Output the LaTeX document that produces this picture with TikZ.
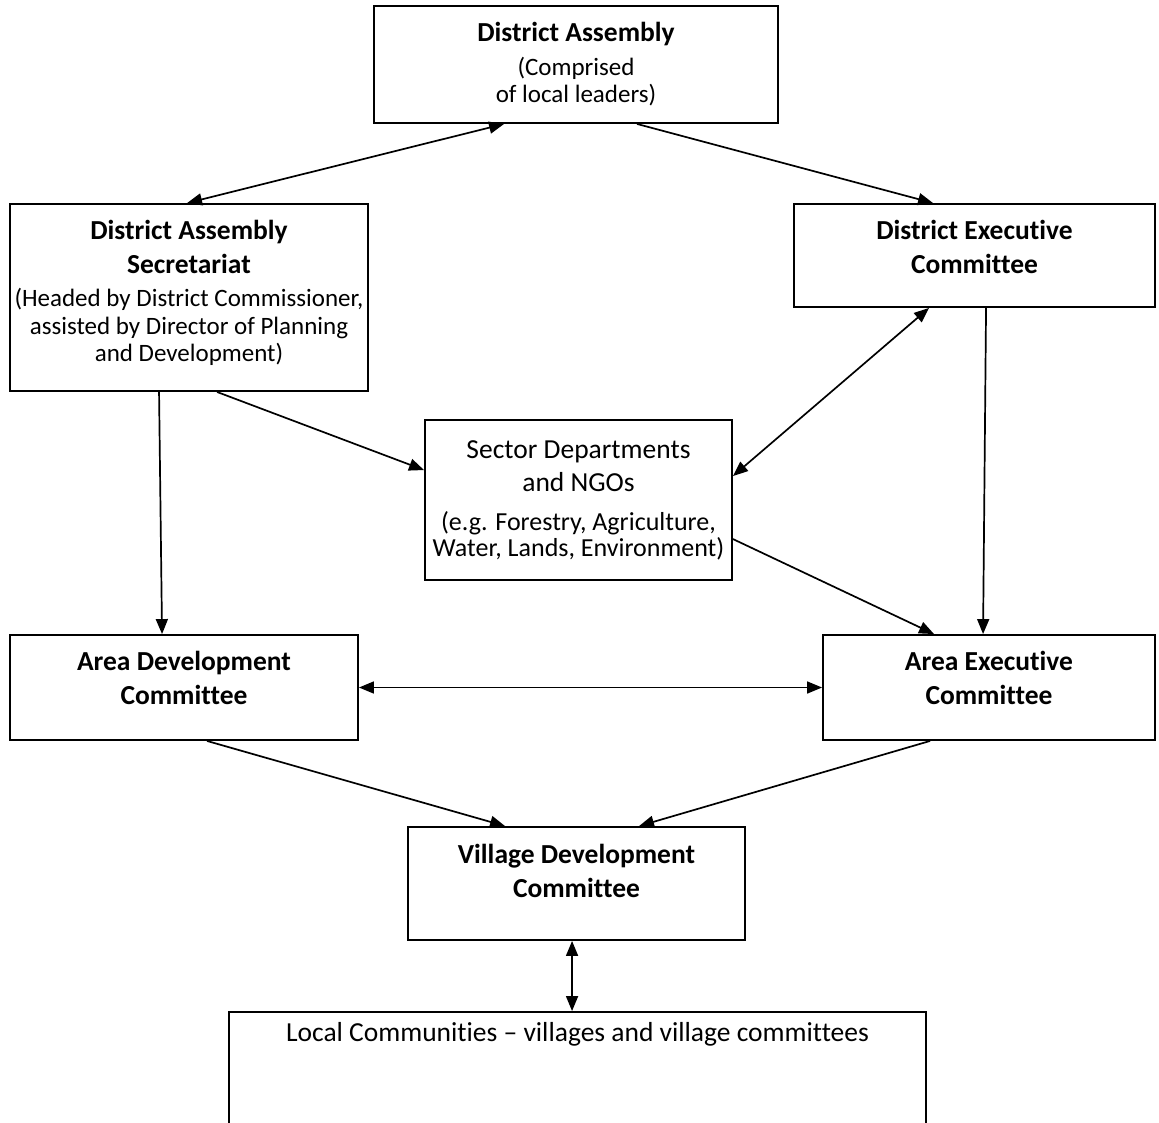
\documentclass[tikz,border=0pt]{standalone}
\usepackage{fontspec}
\setmainfont{Carlito}[Ligatures=NoCommon]
\usetikzlibrary{arrows.meta}
\usetikzlibrary{positioning}

\newcommand{\headfont}{\fontsize{27.5}{33.5}\selectfont}
\newcommand{\notefont}{\fontsize{25}{27}\selectfont}
\newcommand{\sectornote}{\fontsize{26}{27}\selectfont}

\begin{document}
\begin{tikzpicture}[x=1pt, y=-1pt, >={Triangle[length=15pt,width=12pt]}]
\tikzstyle{unit} = [rectangle, draw=black, line width=1.9pt, inner sep=0pt]
\tikzstyle{caption} = [align=center, inner sep=0pt, font=\headfont]
\tikzstyle{link} = [line width=1.7pt]

\clip (0,0) rectangle (1159,1122);

% Boxes
\node (da) [unit, minimum width=404pt, minimum height=117pt] at (576,64.5) {};
\node (das) [unit, minimum width=358pt, minimum height=187pt] at (189,297.5) {};
\node (dec) [unit, minimum width=361pt, minimum height=103pt] at (974.5,255.5) {};
\node (sec) [unit, minimum width=307pt, minimum height=160pt] at (578.5,500) {};
\node (adc) [unit, minimum width=348pt, minimum height=105pt] at (184,687.5) {};
\node (aec) [unit, minimum width=332pt, minimum height=105pt] at (989,687.5) {};
\node (vdc) [unit, minimum width=337pt, minimum height=113pt] at (576.5,883.5) {};
\node (lc) [unit, minimum width=697pt, minimum height=160pt] at (577.5,1092) {};

% Texts
\node (datext) [caption, below=17pt of da.north] {\textbf{District Assembly}\\{\notefont (Comprised}\\[-6pt]{\notefont of local leaders)}};
\node (dastext) [caption, below=17pt of das.north] {\textbf{District Assembly}\\\textbf{Secretariat}\\{\notefont (Headed by District Commissioner,}\\[-6pt]{\notefont assisted by Director of Planning}\\[-6pt]{\notefont and Development)}};
\node (dectext) [caption, below=17pt of dec.north] {\textbf{District Executive}\\\textbf{Committee}};
\node (sectext) [caption, below=21pt of sec.north] {Sector Departments\\and NGOs\\[5pt]{\sectornote (e.g. Forestry, Agriculture,}\\[-7pt]{\sectornote Water, Lands, Environment)}};
\node (adctext) [caption, below=17pt of adc.north] {\textbf{Area Development}\\\textbf{Committee}};
\node (aectext) [caption, below=17pt of aec.north] {\textbf{Area Executive}\\\textbf{Committee}};
\node (vdctext) [caption, below=18pt of vdc.north] {\textbf{Village Development}\\\textbf{Committee}};
\node (lctext) [caption, below=11pt of lc.north] {Local Communities -- villages and village committees};

% Draws
\draw [link, <->] ([xshift=131pt]da.south west) -- ([xshift=178pt]das.north west);
\draw [link, ->] ([xshift=264pt]da.south west) -- ([xshift=140pt]dec.north west);
\draw [link, <->] ([xshift=136pt]dec.south west) -- ([yshift=-57pt]sec.north east);
\draw [link, ->] ([xshift=193pt]dec.south west) -- ([xshift=161pt]aec.north west);
\draw [link, ->] ([xshift=150pt]das.south west) -- ([xshift=153pt]adc.north west);
\draw [link, ->] ([xshift=208pt]das.south west) -- ([yshift=-51pt]sec.north west);
\draw [link, ->] ([yshift=-120pt]sec.north east) -- ([xshift=112pt]aec.north west);
\draw [link, <->] (adc.east) -- (aec.west);
\draw [link, ->] ([xshift=198pt]adc.south west) -- ([xshift=98pt]vdc.north west);
\draw [link, ->] ([xshift=108pt]aec.south west) -- ([xshift=232pt]vdc.north west);
\draw [link, <->] ([xshift=165pt]vdc.south west) -- ([xshift=344pt]lc.north west);
\end{tikzpicture}
\end{document}
